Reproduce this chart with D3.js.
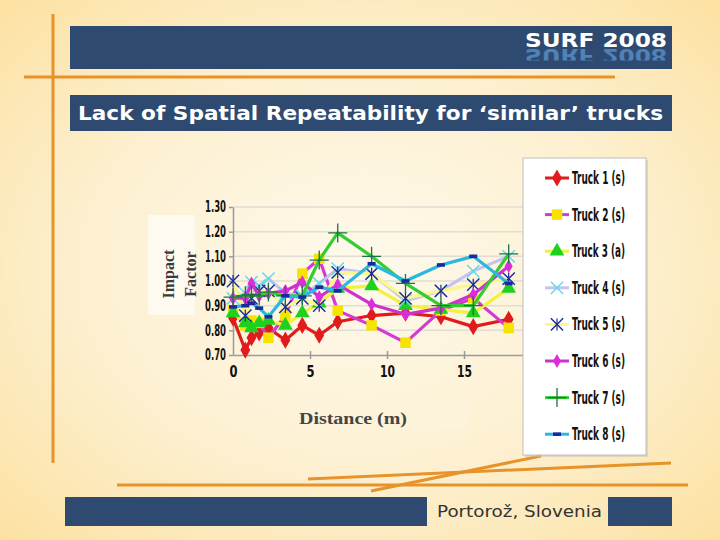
<!DOCTYPE html>
<html>
<head>
<meta charset="utf-8">
<script src="https://cdn.jsdelivr.net/npm/d3@7"></script>
<style>
body { margin: 0; background: #fde6ad; overflow: hidden; }
svg { display: block; }
svg text { font-family: "Liberation Sans Narrow", "Arial Narrow", "DejaVu Sans Condensed", "Liberation Sans", sans-serif; }
</style>
</head>
<body>
<div id="chart"></div>
<script>
// distance along the span (m), shared by every truck
const distance = [0, 0.8, 1.2, 1.7, 2.3, 3.4, 4.5, 5.6, 6.8, 9.0, 11.2, 13.5, 15.6, 17.9];

const truck1 = [0.85, 0.72, 0.77, 0.79, 0.81, 0.76, 0.82, 0.78, 0.835, 0.86, 0.87, 0.855, 0.815, 0.845];
const truck2 = [0.88, 0.82, 0.84, 0.83, 0.77, 0.86, 1.03, 1.09, 0.88, 0.82, 0.75, 0.88, 0.93, 0.81];
const truck3 = [0.87, 0.83, 0.81, 0.83, 0.84, 0.82, 0.87, 0.91, 0.97, 0.98, 0.90, 0.885, 0.87, 0.97];
const truck4 = [0.93, 0.95, 0.995, 0.98, 1.01, 0.95, 0.94, 0.99, 1.05, 1.03, 0.92, 0.96, 1.04, 1.10];
const truck5 = [1.00, 0.86, 0.93, 0.96, 0.96, 0.895, 0.93, 0.90, 1.035, 1.03, 0.93, 0.96, 0.985, 1.01];
const truck6 = [0.93, 0.93, 0.99, 0.94, 0.95, 0.96, 0.995, 0.935, 0.985, 0.905, 0.865, 0.89, 0.945, 1.06];
const truck7 = [0.935, 0.94, 0.945, 0.94, 0.955, 0.94, 0.94, 1.085, 1.195, 1.10, 0.99, 0.90, 0.90, 1.11];
const truck8 = [0.895, 0.90, 0.91, 0.89, 0.855, 0.94, 0.935, 0.975, 0.96, 1.07, 1.00, 1.065, 1.10, 0.99];

const names = ['Truck 1 (s)', 'Truck 2 (s)', 'Truck 3 (a)', 'Truck 4 (s)',
               'Truck 5 (s)', 'Truck 6 (s)', 'Truck 7 (s)', 'Truck 8 (s)'];
const yTicks = [0.7, 0.8, 0.9, 1.0, 1.1, 1.2, 1.3];
const xTicks = [0, 5, 10, 15];

const series = [truck1, truck2, truck3, truck4, truck5, truck6, truck7, truck8];
const lineColors = ['#e11b1b', '#d23ad2', '#f4f040', '#c4c4ee', '#fbf78a', '#cc33cc', '#33cc33', '#2ab8e0'];
const markColors = ['#e11b1b', '#f6e400', '#1fd11f', '#5fd8ec', '#1a2a9a', '#d92ed9', '#1f6f4a', '#1a2a9a'];
const markKind   = ['diamond', 'square', 'triangle', 'x', 'star', 'dot', 'plus', 'dash'];

const W = 720, H = 540;
const root = d3.select('#chart').append('svg')
  .attr('width', W).attr('height', H)
  .attr('xmlns', 'http://www.w3.org/2000/svg');

const defs = root.append('defs');
const bg = defs.append('radialGradient').attr('id', 'bg')
  .attr('cx', '50%').attr('cy', '50%').attr('r', '70%');
bg.append('stop').attr('offset', '0%').attr('stop-color', '#fef9ec');
bg.append('stop').attr('offset', '55%').attr('stop-color', '#fdf0d0');
bg.append('stop').attr('offset', '100%').attr('stop-color', '#fce1a2');
const refl = defs.append('linearGradient').attr('id', 'refl')
  .attr('gradientUnits', 'userSpaceOnUse')
  .attr('x1', 0).attr('y1', 48).attr('x2', 0).attr('y2', 61);
refl.append('stop').attr('offset', '0%').attr('stop-color', '#4f86bd').attr('stop-opacity', 0.95);
refl.append('stop').attr('offset', '100%').attr('stop-color', '#3f6a98').attr('stop-opacity', 0.2);
defs.append('clipPath').attr('id', 'barclip')
  .append('rect').attr('x', 70).attr('y', 47.5).attr('width', 602).attr('height', 13);

root.append('rect').attr('width', W).attr('height', H).attr('fill', 'url(#bg)');

// slide decoration
const navy = '#2f4a70', orange = '#e8922a';
root.append('rect').attr('x', 70).attr('y', 26).attr('width', 602).attr('height', 43).attr('fill', navy);
root.append('rect').attr('x', 70).attr('y', 95).attr('width', 602).attr('height', 36).attr('fill', navy);
root.append('rect').attr('x', 65).attr('y', 497).attr('width', 362).attr('height', 29).attr('fill', navy);
root.append('rect').attr('x', 608).attr('y', 497).attr('width', 64).attr('height', 29).attr('fill', navy);

const deco = root.append('g').attr('stroke', orange).attr('stroke-width', 3).attr('fill', 'none');
deco.append('line').attr('x1', 53).attr('x2', 53).attr('y1', 14).attr('y2', 463);
deco.append('line').attr('x1', 24).attr('x2', 615).attr('y1', 77).attr('y2', 77);
deco.append('line').attr('x1', 117).attr('x2', 688).attr('y1', 485).attr('y2', 485);
deco.append('line').attr('x1', 308).attr('x2', 671).attr('y1', 479).attr('y2', 463);
deco.append('line').attr('x1', 371).attr('x2', 541).attr('y1', 491).attr('y2', 456);

const brand = "'DejaVu Sans', Verdana, sans-serif";
root.append('text').attr('x', 667).attr('y', 47).attr('text-anchor', 'end')
  .style('font-family', brand).style('font-weight', 'bold').style('font-size', '20px')
  .attr('textLength', 142).attr('lengthAdjust', 'spacingAndGlyphs')
  .attr('fill', '#ffffff').text('SURF 2008');
root.append('g').attr('clip-path', 'url(#barclip)')
  .append('text').attr('x', 667).attr('y', -48.5).attr('text-anchor', 'end')
  .attr('transform', 'scale(1,-1)')
  .style('font-family', brand).style('font-weight', 'bold').style('font-size', '20px')
  .attr('textLength', 142).attr('lengthAdjust', 'spacingAndGlyphs')
  .attr('fill', 'url(#refl)').text('SURF 2008');

root.append('text').attr('x', 78).attr('y', 120)
  .style('font-family', brand).style('font-weight', 'bold').style('font-size', '19px')
  .attr('textLength', 585).attr('lengthAdjust', 'spacingAndGlyphs')
  .attr('fill', '#ffffff').text('Lack of Spatial Repeatability for \u2018similar\u2019 trucks');

root.append('text').attr('x', 437).attr('y', 517)
  .style('font-family', brand).style('font-size', '16px')
  .attr('textLength', 165).attr('lengthAdjust', 'spacingAndGlyphs')
  .attr('fill', '#333333').text('Portoro\u017e, Slovenia');

// chart
const x = d3.scaleLinear().domain([0, 18.83]).range([233, 523]);
const y = d3.scaleLinear().domain([0.7, 1.3]).range([355, 207]);

root.append('rect').attr('x', 148).attr('y', 215).attr('width', 47).attr('height', 100)
  .attr('fill', '#fffaf0');
root.append('rect').attr('x', 293).attr('y', 401).attr('width', 177).attr('height', 29)
  .attr('fill', '#fdf3da');

const grid = root.append('g');
grid.selectAll('line').data(yTicks.slice(1)).enter().append('line')
  .attr('x1', x(0)).attr('x2', 523)
  .attr('y1', d => y(d)).attr('y2', d => y(d))
  .attr('stroke', '#e2ddd3').attr('stroke-width', 1.5);

const tickFont = "'Liberation Sans Narrow', 'Arial Narrow', 'DejaVu Sans Condensed', sans-serif";
const yAxis = root.append('g').attr('transform', 'translate(' + x(0) + ',0)')
  .call(d3.axisLeft(y).tickValues(yTicks).tickFormat(d3.format('.2f')).tickSize(4).tickSizeOuter(0));
const xAxis = root.append('g').attr('transform', 'translate(0,' + y(0.7) + ')')
  .call(d3.axisBottom(x).tickValues(xTicks).tickSize(4).tickSizeOuter(0));
[yAxis, xAxis].forEach(a => {
  a.select('.domain').attr('stroke', '#9a9a9a').attr('stroke-width', 1.5);
  a.selectAll('.tick line').attr('stroke', '#9a9a9a').attr('stroke-width', 1.5);
  a.selectAll('text').attr('fill', '#111').style('font-weight', 'bold').style('font-size', '15px')
    .style('font-family', tickFont);
});
yAxis.selectAll('.tick line').attr('x2', -4);
yAxis.selectAll('text').attr('x', -7).attr('textLength', 21).attr('lengthAdjust', 'spacingAndGlyphs');
xAxis.selectAll('.tick line').attr('y1', -4).attr('y2', 4);
xAxis.selectAll('.tick').filter(d => d === 0).select('line').remove();
xAxis.selectAll('text').attr('y', 22).attr('dy', null)
  .attr('textLength', d => d < 10 ? 8 : 15).attr('lengthAdjust', 'spacingAndGlyphs');

const labelFont = "'Liberation Serif', 'Times New Roman', serif";
root.append('text').attr('transform', 'translate(174,274) rotate(-90)').attr('text-anchor', 'middle')
  .style('font-family', labelFont).style('font-weight', 'bold').style('font-size', '16px')
  .attr('fill', '#3a3a3a').text('Impact');
root.append('text').attr('transform', 'translate(196,274) rotate(-90)').attr('text-anchor', 'middle')
  .style('font-family', labelFont).style('font-weight', 'bold').style('font-size', '16px')
  .attr('fill', '#3a3a3a').text('Factor');
root.append('text').attr('x', 299).attr('y', 424)
  .style('font-family', labelFont).style('font-weight', 'bold').style('font-size', '16px')
  .attr('textLength', 108).attr('lengthAdjust', 'spacingAndGlyphs')
  .attr('fill', '#444').text('Distance (m)');

function marker(g, kind, color) {
  const sym = (t, s) => g.append('path').attr('d', d3.symbol().type(t).size(s)());
  if (kind === 'diamond') sym(d3.symbolDiamond, 85).attr('fill', color);
  else if (kind === 'square') sym(d3.symbolSquare, 110).attr('fill', color);
  else if (kind === 'triangle') sym(d3.symbolTriangle, 95).attr('fill', color);
  else if (kind === 'dot') sym(d3.symbolDiamond, 55).attr('fill', color);
  else if (kind === 'x') sym(d3.symbolTimes, 100).attr('fill', 'none').attr('stroke', color).attr('stroke-width', 1.4);
  else if (kind === 'plus') sym(d3.symbolPlus, 120).attr('fill', 'none').attr('stroke', color).attr('stroke-width', 1.3);
  else if (kind === 'star') {
    sym(d3.symbolTimes, 100).attr('fill', 'none').attr('stroke', color).attr('stroke-width', 1.4);
    g.append('line').attr('y1', -6).attr('y2', 6).attr('stroke', color).attr('stroke-width', 1.2);
  } else if (kind === 'dash') g.append('rect').attr('x', -4).attr('y', -1.8).attr('width', 8).attr('height', 3.6).attr('fill', color);
}

const line = d3.line().x((d, i) => x(distance[i])).y(d => y(d));
series.forEach((vals, k) => {
  const g = root.append('g');
  g.append('path').attr('d', line(vals)).attr('fill', 'none')
    .attr('stroke', lineColors[k]).attr('stroke-width', 3.2).attr('stroke-linejoin', 'round');
  g.selectAll('g.m').data(vals).enter().append('g')
    .attr('transform', (d, i) => 'translate(' + x(distance[i]) + ',' + y(d) + ')')
    .each(function () { marker(d3.select(this), markKind[k], markColors[k]); });
});

// legend
root.append('rect').attr('x', 525).attr('y', 160).attr('width', 123).attr('height', 297)
  .attr('fill', '#c8c0b0').attr('opacity', 0.5);
root.append('rect').attr('x', 523).attr('y', 158).attr('width', 123).attr('height', 297)
  .attr('fill', '#ffffff').attr('stroke', '#bdbdbd').attr('stroke-width', 1);
const leg = root.append('g').selectAll('g').data(names).enter().append('g')
  .attr('transform', (d, i) => 'translate(0,' + (178 + i * 36.6) + ')');
leg.append('line').attr('x1', 545).attr('x2', 569).attr('stroke', (d, i) => lineColors[i]).attr('stroke-width', 3);
leg.append('g').attr('transform', 'translate(557,0)')
  .each(function (d, i) { marker(d3.select(this), markKind[i], markColors[i]); });
leg.append('text').attr('x', 572).attr('y', 6).attr('fill', '#111')
  .style('font-weight', 'bold').style('font-size', '17px')
  .attr('textLength', 53).attr('lengthAdjust', 'spacingAndGlyphs').text(d => d);
</script>
</body>
</html>
